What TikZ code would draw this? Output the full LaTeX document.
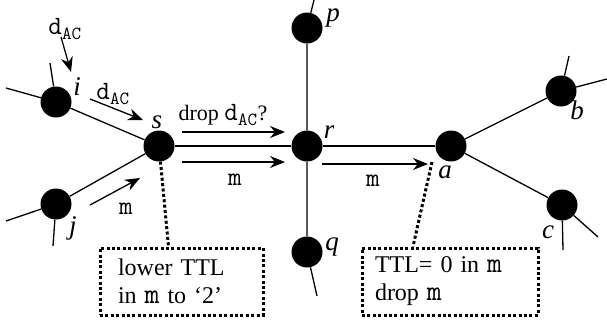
\documentclass[tikz,border=0pt]{standalone}
\usepackage{fontspec}
\setmainfont{Liberation Serif}
\setmonofont{Latin Modern Mono}[Scale=1.2]
\usetikzlibrary{arrows.meta, positioning}

\newcommand{\dac}{\texttt{d}\textsubscript{\texttt{AC}}}

\begin{document}
\begin{tikzpicture}[
    x=1pt, y=-1pt,
    router/.style={circle, fill=black, minimum size=31pt, inner sep=0pt},
    link/.style={line width=1.3pt},
    arr/.style={-{Stealth[length=15pt, width=12pt]}, line width=1.3pt},
    tag/.style={font=\fontsize{27}{29}\selectfont\itshape, inner sep=0pt},
    msg/.style={font=\fontsize{22}{24}\selectfont, inner sep=1pt},
    note/.style={draw, line width=3pt, dash pattern=on 3pt off 2.4pt,
                 minimum height=67pt, inner xsep=0pt, align=left,
                 font=\fontsize{24}{28}\selectfont},
    lead/.style={line width=3pt, dash pattern=on 3pt off 2.4pt}
]
\useasboundingbox (0,0) rectangle (607,325);

% routers
\node[router] (i) at (56,102) {};
\node[router] (j) at (56,204) {};
\node[router] (s) at (159,146) {};
\node[router] (r) at (307,146) {};
\node[router] (p) at (307,28) {};
\node[router] (q) at (307,252) {};
\node[router] (a) at (451,146) {};
\node[router] (b) at (561,91) {};
\node[router] (c) at (562,205) {};

% router names
\node[tag] (i-name) at (77,87) {i};
\node[tag] (j-name) at (73,228) {j};
\node[tag] (s-name) at (157,122) {s};
\node[tag] (r-name) at (329,132) {r};
\node[tag] (p-name) at (333,18) {p};
\node[tag] (q-name) at (332,247) {q};
\node[tag] (a-name) at (445,172) {a};
\node[tag] (b-name) at (577,110) {b};
\node[tag] (c-name) at (548,232) {c};

% loose link ends
\coordinate (i-w) at (6,88);
\coordinate (i-n) at (50,63);
\coordinate (j-w) at (6,221);
\coordinate (j-s) at (53,246);
\coordinate (p-n) at (314,0);
\coordinate (q-s) at (317,296);
\coordinate (b-n) at (569,56);
\coordinate (b-e) at (607,79);
\coordinate (c-s) at (563,250);
\coordinate (c-e) at (598,237);

% links
\draw[link] (i-w) -- (i) -- (s) -- (j) -- (j-w);
\draw[link] (i-n) -- (i);
\draw[link] (j-s) -- (j);
\draw[link] (s) -- (r) -- (a);
\draw[link] (p-n) -- (p) -- (r) -- (q) -- (q-s);
\draw[link] (b-n) -- (b) -- (b-e);
\draw[link] (b) -- (a) -- (c) -- (c-e);
\draw[link] (c) -- (c-s);

% message arrows
\coordinate (m1-from) at (61,37);   \coordinate (m1-to) at (71,72);
\coordinate (m2-from) at (90,99);   \coordinate (m2-to) at (143,120);
\coordinate (m3-from) at (182,132); \coordinate (m3-to) at (285,132);
\coordinate (m4-from) at (182,162); \coordinate (m4-to) at (285,162);
\coordinate (m5-from) at (90,205);  \coordinate (m5-to) at (140,178);
\coordinate (m6-from) at (322,164); \coordinate (m6-to) at (428,164);
\draw[arr] (m1-from) -- (m1-to);
\draw[arr] (m2-from) -- (m2-to);
\draw[arr] (m3-from) -- (m3-to);
\draw[arr] (m4-from) -- (m4-to);
\draw[arr] (m5-from) -- (m5-to);
\draw[arr] (m6-from) -- (m6-to);

\node[msg] (m1-text) at (65,29) {\dac};
\node[msg] (m2-text) at (113,94) {\dac};
\node[msg] (m3-text) at (223,115) {drop \dac?};
\node[msg] (m4-text) at (235,180) {\texttt{m}};
\node[msg] (m5-text) at (126,209) {\texttt{m}};
\node[msg] (m6-text) at (373,181) {\texttt{m}};

% notes
\node[note, minimum width=163pt, text width=127pt] (lowbox) at (181.5,281.5)
    {lower TTL\\in \texttt{m} to `2'};
\node[note, minimum width=176pt, text width=150pt] (dropbox) at (450,281.5)
    {TTL= 0 in \texttt{m}\\drop \texttt{m}};
\coordinate (a-drop) at (432,162);
\draw[lead] (s) -- ([xshift=-13pt]lowbox.north);
\draw[lead] (a-drop) -- ([xshift=-37pt]dropbox.north);
\end{tikzpicture}
\end{document}
